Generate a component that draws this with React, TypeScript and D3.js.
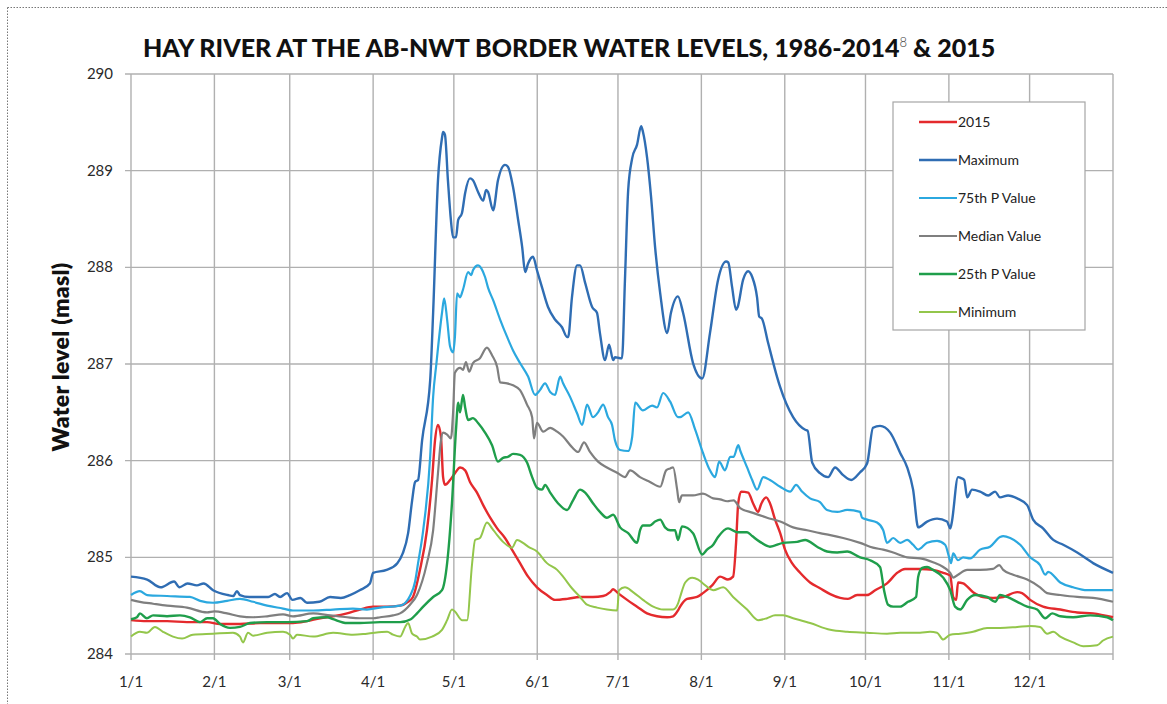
import React from "react";
import * as d3 from "d3";

// ---- data (day of year 2015, water level in masl) ----
const monthLabels = ["1/1", "2/1", "3/1", "4/1", "5/1", "6/1", "7/1", "8/1", "9/1", "10/1", "11/1", "12/1"];
const monthStartDays = [0, 31, 59, 90, 120, 151, 181, 212, 243, 273, 304, 334];
const yTicks = [284, 285, 286, 287, 288, 289, 290];

const seriesNames = ["2015", "Maximum", "75th P Value", "Median Value", "25th P Value", "Minimum"];

const y2015: [number, number][] = [
  [0, 284.35], [5.9, 284.34], [13.4, 284.34], [20.8, 284.33], [28.3, 284.33], [33.1, 284.31], [40.5, 284.31], [48, 284.32],
  [55.4, 284.32], [60.2, 284.32], [65.4, 284.34], [70.3, 284.37], [75.1, 284.39], [80.3, 284.42], [85.1, 284.46], [90, 284.49],
  [95.2, 284.49], [100, 284.5], [103, 284.54], [104.8, 284.59], [107.4, 284.87], [110, 285.28], [111.9, 285.8], [113, 286.21],
  [114.1, 286.37], [115.2, 286.25], [116, 285.83], [116.7, 285.75], [118.6, 285.8], [120.4, 285.87], [122.3, 285.93], [124.2, 285.9],
  [126, 285.78], [128.6, 285.67], [130.9, 285.54], [133.5, 285.41], [136.1, 285.3], [139, 285.2], [141.6, 285.08], [144.6, 284.94],
  [147.6, 284.8], [150.9, 284.69], [154.6, 284.61], [157.6, 284.56], [162.1, 284.57], [166.9, 284.59], [171.7, 284.59], [175.5, 284.6],
  [178.1, 284.64], [179.2, 284.67], [181, 284.63], [184.4, 284.56], [188.1, 284.49], [191.8, 284.42], [195.5, 284.39], [199.3, 284.38],
  [201.5, 284.39], [203.3, 284.45], [204.1, 284.49], [206.7, 284.57], [210.4, 284.59], [212.6, 284.63], [216, 284.71], [219, 284.8],
  [221.9, 284.77], [223.8, 284.8], [224.9, 285.15], [225.7, 285.56], [226.8, 285.68], [229.4, 285.67], [231.2, 285.56], [233.1, 285.47],
  [234.2, 285.55], [236.1, 285.62], [237.5, 285.56], [239.4, 285.39], [241.3, 285.25], [243.1, 285.08], [245.7, 284.94], [248.7, 284.84],
  [252.4, 284.74], [256.1, 284.68], [259.9, 284.62], [263.6, 284.58], [266.5, 284.57], [269.9, 284.61], [273.6, 284.61], [276.6, 284.66],
  [281, 284.73], [284.8, 284.84], [287.7, 284.88], [293.3, 284.88], [298.1, 284.87], [301.9, 284.84], [304.5, 284.81], [305.6, 284.59],
  [306.7, 284.56], [307.4, 284.74], [309.3, 284.73], [313, 284.64], [316.7, 284.59], [320.4, 284.58], [324.2, 284.59], [329.4, 284.64],
  [331.2, 284.63], [334.2, 284.56], [339, 284.49], [345.4, 284.46], [351.7, 284.43], [357.6, 284.42], [365, 284.38],
];

const yMaximum: [number, number][] = [
  [0, 284.8], [6, 284.77], [11, 284.69], [16, 284.75], [18, 284.69], [21, 284.73], [24.5, 284.71], [27, 284.73], [30.5, 284.66],
  [36, 284.61], [38, 284.6], [39.4, 284.65], [40.5, 284.61], [44, 284.59], [51, 284.59], [53.5, 284.62], [55.4, 284.59], [58, 284.63],
  [60, 284.56], [63, 284.58], [65.4, 284.53], [70, 284.54], [74, 284.59], [78, 284.58], [81.4, 284.61], [85, 284.66], [88.8, 284.73],
  [90, 284.84], [95, 284.87], [99, 284.94], [101, 285.04], [103, 285.25], [104.5, 285.59], [105.6, 285.78], [106.7, 285.8],
  [108.2, 286.21], [111.2, 286.83], [112.3, 287.53], [114.1, 288.9], [115.6, 289.34], [116, 289.4], [116.7, 289.37], [117.8, 288.9],
  [118.9, 288.49], [119.7, 288.31], [120.8, 288.31], [121.6, 288.49], [123, 288.56], [124.2, 288.77], [126, 288.92], [127.1, 288.9],
  [129, 288.78], [130.9, 288.69], [132, 288.8], [132.7, 288.78], [134.6, 288.59], [136.4, 288.9], [139, 289.06], [140.1, 289.04],
  [142, 288.83], [143.9, 288.49], [145.4, 288.21], [146.5, 287.95], [147.6, 288.04], [149.4, 288.11], [150.9, 287.97], [152.8, 287.79],
  [155, 287.59], [157.6, 287.46], [160.2, 287.38], [162.1, 287.28], [162.5, 287.28], [163.9, 287.69], [165.8, 288.02], [166.9, 288.02],
  [168.8, 287.84], [171.4, 287.59], [173.2, 287.53], [174.3, 287.32], [176.2, 287.04], [177.7, 287.2], [179.2, 287.04], [179.9, 287.07],
  [181.8, 287.06], [182.5, 287.06], [183.6, 287.87], [184.8, 288.8], [186.3, 289.13], [188.1, 289.27], [189.6, 289.46], [190.3, 289.4],
  [191.8, 289.14], [193.3, 288.73], [194.8, 288.21], [196.7, 287.73], [199.3, 287.32], [200.7, 287.53], [203.3, 287.7], [205.2, 287.53],
  [208.9, 287.01], [212.3, 286.85], [215.2, 287.32], [218.2, 287.87], [221.2, 288.06], [222, 288.05], [223.4, 287.8], [224.9, 287.56],
  [225.5, 287.59], [227.5, 287.87], [229.4, 287.96], [230.9, 287.9], [232.7, 287.69], [233.5, 287.49], [234.5, 287.47], [236.8, 287.22],
  [240.1, 286.87], [241.3, 286.76], [246.1, 286.45], [250.6, 286.32], [251.5, 286.31], [253.2, 285.98], [256.1, 285.87], [259.1, 285.83],
  [261.7, 285.93], [264.7, 285.85], [267.7, 285.8], [271, 285.88], [273.6, 285.97], [275.8, 286.34], [278.4, 286.36], [282.2, 286.29],
  [285.9, 286.08], [288.5, 285.93], [290.7, 285.7], [292.6, 285.31], [295.9, 285.37], [299.6, 285.4], [303.3, 285.37], [304.5, 285.3],
  [305, 285.35], [307.4, 285.83], [308.5, 285.82], [309.7, 285.8], [310.8, 285.62], [312.6, 285.7], [315.6, 285.68], [318.6, 285.64],
  [321.2, 285.68], [323, 285.62], [326, 285.64], [329.4, 285.61], [333.1, 285.54], [335.3, 285.39], [339, 285.3], [342.8, 285.18],
  [346.5, 285.13], [351.7, 285.05], [357.6, 284.94], [365, 284.84],
];

const y75th: [number, number][] = [
  [0, 284.61], [3.3, 284.65], [6, 284.61], [13.4, 284.6], [21.9, 284.59], [25.7, 284.55], [30.5, 284.53], [35.7, 284.55], [40.5, 284.57],
  [45.4, 284.54], [50.6, 284.5], [56.5, 284.47], [60.2, 284.45], [67.7, 284.45], [75.1, 284.46], [82.5, 284.47], [87.7, 284.46],
  [92.6, 284.48], [100, 284.5], [102, 284.53], [103.7, 284.6], [105.6, 284.75], [106.7, 284.94], [108.6, 285.28], [111.2, 286.04],
  [112.3, 286.66], [113.5, 287.0], [115.6, 287.53], [116.4, 287.68], [117.5, 287.46], [118.6, 287.18], [119.7, 287.12], [120.4, 287.28],
  [121.2, 287.73], [122.3, 287.69], [123.4, 287.77], [125.3, 287.95], [126.5, 287.92], [127.1, 287.97], [129, 288.02], [130.2, 287.99],
  [131.6, 287.9], [132.7, 287.79], [134.6, 287.66], [137.2, 287.46], [139.8, 287.28], [142, 287.14], [144.6, 287.01], [147.6, 286.87],
  [150.2, 286.68], [152, 286.73], [153.9, 286.8], [155.8, 286.71], [157.6, 286.68], [159.5, 286.87], [160.6, 286.8], [163.2, 286.66],
  [165.8, 286.49], [167.7, 286.37], [169.5, 286.58], [171.7, 286.45], [173.6, 286.5], [175.5, 286.58], [177.3, 286.45], [178.8, 286.37],
  [179.9, 286.21], [181.8, 286.11], [184.8, 286.1], [186.3, 286.25], [187.4, 286.6], [190.3, 286.52], [193.7, 286.57], [195.5, 286.55],
  [197.8, 286.7], [200.4, 286.61], [203.3, 286.45], [204.1, 286.45], [207.1, 286.5], [209.7, 286.32], [212.6, 286.08], [215.2, 285.9],
  [217.1, 285.83], [218.6, 285.99], [220.8, 285.9], [222.7, 286.04], [224, 286.04], [225.7, 286.16], [226.5, 286.1], [229, 285.93],
  [230.9, 285.8], [232.7, 285.7], [235, 285.83], [237.5, 285.8], [241.3, 285.73], [245, 285.68], [247.2, 285.75], [249.4, 285.68],
  [252.4, 285.61], [256.1, 285.57], [258.7, 285.49], [262.5, 285.47], [266.2, 285.49], [271, 285.47], [271.7, 285.41], [273.6, 285.39],
  [277.3, 285.36], [279.6, 285.28], [281, 285.15], [283.3, 285.2], [285.9, 285.15], [288.5, 285.18], [290.7, 285.13], [292.6, 285.08],
  [295.9, 285.15], [299.6, 285.17], [302.6, 285.13], [304.1, 285.0], [304.8, 284.94], [305.6, 285.04], [307.4, 284.97], [309.3, 285.0],
  [311.9, 284.99], [315.6, 285.08], [319.3, 285.11], [323, 285.21], [324.2, 285.22], [326.8, 285.2], [330.5, 285.13], [334.2, 285.0],
  [337.9, 284.92], [339.8, 284.82], [340.9, 284.85], [345.4, 284.74], [350.2, 284.69], [355.4, 284.66], [365, 284.66],
];

const yMedian: [number, number][] = [
  [0, 284.56], [3.3, 284.54], [8.2, 284.52], [13.4, 284.5], [20.8, 284.48], [28.3, 284.43], [31, 284.44], [35.7, 284.42], [40.5, 284.39],
  [45.4, 284.38], [50.6, 284.39], [56.5, 284.41], [60.2, 284.39], [67.7, 284.42], [74, 284.4], [80.3, 284.38], [85.1, 284.37],
  [90, 284.37], [92.6, 284.38], [97.4, 284.4], [100, 284.42], [103.7, 284.51], [106.3, 284.61], [110, 284.94], [112.3, 285.28],
  [114.1, 285.87], [115.2, 286.21], [116, 286.29], [117.5, 286.27], [118.9, 286.23], [119.7, 286.49], [120.4, 286.91], [122.3, 286.96],
  [123.4, 286.94], [124.5, 287.02], [125.7, 286.92], [127.1, 287.01], [129.7, 287.06], [132.3, 287.17], [134.2, 287.09], [136.1, 286.97],
  [137.2, 286.81], [139.8, 286.8], [142, 286.78], [144.6, 286.73], [147.2, 286.58], [149.1, 286.45], [149.8, 286.23], [150.9, 286.39],
  [153.2, 286.3], [155.8, 286.34], [158.4, 286.3], [160.6, 286.25], [163.9, 286.14], [166.2, 286.09], [168.4, 286.19], [170.6, 286.09],
  [173.6, 285.99], [176.9, 285.93], [181, 285.87], [183.6, 285.83], [185.5, 285.9], [189.2, 285.83], [192.9, 285.78], [196.7, 285.73],
  [198.9, 285.9], [200.4, 285.92], [201.5, 285.93], [203, 285.7], [203.7, 285.57], [204.8, 285.64], [208.9, 285.64], [212.6, 285.66],
  [216.4, 285.61], [219, 285.6], [221.6, 285.58], [224, 285.59], [226.4, 285.51], [231.2, 285.46], [236.4, 285.41], [241.3, 285.37],
  [246.1, 285.31], [251.3, 285.28], [256.1, 285.25], [259.9, 285.23], [264.7, 285.2], [271, 285.15], [275.8, 285.1], [279.6, 285.08],
  [283.3, 285.05], [288.5, 285.0], [293.3, 284.99], [298.1, 284.95], [301.9, 284.9], [304.5, 284.84], [305.6, 284.79], [307.4, 284.82],
  [310.8, 284.87], [315.6, 284.87], [320.4, 284.88], [322.7, 284.92], [324.2, 284.87], [327.9, 284.82], [333.1, 284.77], [337.9, 284.69],
  [340.5, 284.63], [345.4, 284.61], [351.7, 284.59], [357.6, 284.58], [365, 284.54],
];

const y25th: [number, number][] = [
  [0, 284.36], [2.2, 284.38], [3.3, 284.42], [5.9, 284.37], [8.2, 284.4], [13.4, 284.39], [18.2, 284.4], [21.9, 284.38], [25.7, 284.33],
  [28.3, 284.37], [30.5, 284.37], [33.1, 284.31], [36.8, 284.27], [40.5, 284.28], [44.2, 284.32], [50.6, 284.33], [58, 284.33],
  [65.4, 284.34], [67.7, 284.37], [72.9, 284.38], [75.1, 284.36], [80.3, 284.32], [85.1, 284.32], [92.6, 284.33], [100, 284.33],
  [104, 284.36], [106.3, 284.42], [108.6, 284.49], [112.3, 284.59], [115.6, 284.66], [117.5, 284.94], [119.3, 285.56], [120.8, 286.32],
  [121.6, 286.6], [122.3, 286.5], [123.4, 286.68], [124.2, 286.55], [125.3, 286.42], [127.1, 286.44], [129, 286.39], [131.6, 286.29],
  [134.2, 286.16], [136.4, 285.99], [138.3, 286.03], [140.1, 286.04], [142, 286.07], [144.6, 286.06], [147.2, 285.98], [149.1, 285.83],
  [150.9, 285.72], [152.8, 285.7], [153.9, 285.75], [155.8, 285.67], [158.7, 285.56], [162.1, 285.49], [164.3, 285.59], [166.9, 285.7],
  [168.8, 285.67], [171.7, 285.56], [174.3, 285.47], [176.9, 285.41], [179.2, 285.44], [181.8, 285.31], [184.8, 285.25], [188.1, 285.15],
  [189.2, 285.28], [190.3, 285.33], [192.9, 285.33], [194.8, 285.37], [196.7, 285.39], [198.5, 285.31], [200.4, 285.28], [202.2, 285.28],
  [203.3, 285.18], [204.8, 285.32], [208.9, 285.25], [212.3, 285.03], [214.1, 285.08], [216.4, 285.13], [218.2, 285.21], [221.9, 285.3],
  [225.3, 285.26], [229, 285.26], [230.9, 285.22], [233.8, 285.16], [237.5, 285.11], [242.4, 285.15], [247.6, 285.16], [250.6, 285.18],
  [255, 285.11], [258.7, 285.06], [262.5, 285.05], [266.2, 285.06], [271, 285.0], [274.7, 284.97], [278.4, 284.9], [279.9, 284.66],
  [281.4, 284.51], [283.3, 284.49], [285.9, 284.49], [288.8, 284.54], [291.8, 284.59], [292.6, 284.8], [294.1, 284.89], [295.9, 284.9],
  [298.1, 284.87], [301.9, 284.79], [304.5, 284.66], [306.3, 284.49], [308.2, 284.46], [310.8, 284.56], [313.8, 284.61], [318.2, 284.59],
  [321.2, 284.54], [323, 284.61], [325.7, 284.59], [329.4, 284.54], [333.1, 284.49], [336.8, 284.46], [339.8, 284.37], [342.4, 284.42],
  [345.4, 284.39], [350.2, 284.38], [356.5, 284.4], [362.8, 284.38], [365, 284.35],
];

const yMinimum: [number, number][] = [
  [0, 284.18], [3.3, 284.23], [5.9, 284.22], [8.9, 284.28], [11.9, 284.23], [15.6, 284.18], [19, 284.16], [23, 284.2], [30.5, 284.21],
  [37.9, 284.22], [40.5, 284.18], [41.6, 284.12], [43.5, 284.22], [45.4, 284.19], [50.6, 284.22], [56.5, 284.23], [59.1, 284.2],
  [60.2, 284.16], [61.7, 284.2], [67.7, 284.18], [75.1, 284.22], [82.5, 284.2], [87.7, 284.21], [95.2, 284.23], [97.4, 284.2],
  [100, 284.18], [101.9, 284.28], [103, 284.32], [104.5, 284.21], [106.3, 284.18], [107.4, 284.15], [111.9, 284.18], [115.6, 284.25],
  [117.5, 284.35], [119.3, 284.46], [120.4, 284.44], [123, 284.35], [124.9, 284.35], [126.8, 284.94], [127.9, 285.18], [129.7, 285.2],
  [132.3, 285.36], [134.2, 285.3], [136.1, 285.23], [138.3, 285.16], [141.6, 285.1], [143.5, 285.18], [145.7, 285.15], [147.6, 285.11],
  [150.9, 285.06], [154.6, 284.94], [158.4, 284.87], [160.6, 284.8], [163.9, 284.68], [166.9, 284.59], [169.5, 284.51], [173.2, 284.48],
  [176.9, 284.46], [180.7, 284.45], [181.4, 284.66], [183.6, 284.69], [186.6, 284.64], [190.3, 284.56], [194.1, 284.49], [197.8, 284.46],
  [201.5, 284.46], [203.3, 284.52], [204.1, 284.59], [206, 284.74], [208.6, 284.79], [210.8, 284.77], [212.6, 284.73], [216.4, 284.66],
  [220.1, 284.69], [223.8, 284.59], [229, 284.46], [233.1, 284.35], [236.4, 284.37], [239.4, 284.4], [242.4, 284.4], [246.1, 284.37],
  [252.4, 284.32], [259.9, 284.25], [266.2, 284.23], [273.6, 284.22], [281, 284.21], [285.9, 284.22], [293.3, 284.22], [297, 284.23],
  [299.6, 284.22], [301.9, 284.15], [304.5, 284.2], [308.2, 284.21], [313, 284.23], [318.2, 284.27], [323, 284.27], [329.4, 284.28],
  [334.2, 284.29], [337.9, 284.28], [340.5, 284.21], [342.8, 284.23], [345.4, 284.18], [350.2, 284.12], [353.9, 284.08], [359.1, 284.09],
  [361.3, 284.14], [365, 284.18],
];

const seriesData = [y2015, yMaximum, y75th, yMedian, y25th, yMinimum];
const seriesColors = ["#e42a2d", "#2f6db3", "#2ba8df", "#7f7f7f", "#1f9e4b", "#93c64b"];
const seriesWidths = [2.4, 2.4, 2.2, 2.2, 2.4, 2];

export default function App() {
  const W = 1167, H = 704;
  const left = 131, right = 1113, top = 74, bottom = 654;
  const x = d3.scaleLinear().domain([0, 365]).range([left, right]);
  const y = d3.scaleLinear().domain([284, 290]).range([bottom, top]);
  const line = d3
    .line<[number, number]>()
    .x((d) => x(d[0]))
    .y((d) => y(d[1]))
    .curve(d3.curveMonotoneX);

  const gridColor = "#b0b0b0";
  const tickFont = "Lato, 'Open Sans', sans-serif";

  const legendX = 893, legendY = 102, legendW = 192, legendH = 228;
  const rowY = (i: number) => 122 + i * 38;

  return (
    <svg width={W} height={H} style={{ position: "absolute", left: 0, top: 0, background: "#fff" }}>
      <rect x={0} y={0} width={W} height={H} fill="#fff" />
      {/* dotted outer frame */}
      <line x1={7.5} y1={7.5} x2={W} y2={7.5} stroke="#777" strokeWidth={1} strokeDasharray="1.5,1.5" />
      <line x1={7.5} y1={7.5} x2={7.5} y2={H} stroke="#777" strokeWidth={1} strokeDasharray="1.5,1.5" />

      {/* title */}
      <text x={143} y={57} fontFamily="Lato, sans-serif" fontWeight={900} fontSize={25} fill="#111" letterSpacing={0}>
        HAY RIVER AT THE AB-NWT BORDER WATER LEVELS, 1986-2014
        <tspan fontWeight={300} fontSize={13} dy={-10} fill="#444">8</tspan>
        <tspan dy={10}> &amp; 2015</tspan>
      </text>

      {/* horizontal gridlines + y ticks */}
      {yTicks.map((t) => (
        <g key={"y" + t}>
          <line x1={left - 6} x2={right} y1={y(t)} y2={y(t)} stroke={gridColor} strokeWidth={1.4} />
          <text x={left - 18} y={y(t) + 5} textAnchor="end" fontFamily={tickFont} fontSize={15} fill="#2a2a2a">
            {t}
          </text>
        </g>
      ))}
      {/* vertical gridlines + x ticks */}
      {[...monthStartDays, 365].map((d, i) => (
        <g key={"x" + d}>
          <line x1={x(d)} x2={x(d)} y1={top} y2={bottom + 6} stroke={gridColor} strokeWidth={1.4} />
          {i < monthLabels.length && (
            <text x={x(d)} y={687} textAnchor="middle" fontFamily={tickFont} fontSize={15} fill="#2a2a2a">
              {monthLabels[i]}
            </text>
          )}
        </g>
      ))}

      {/* y axis title */}
      <text
        transform={`translate(69,357) rotate(-90)`}
        textAnchor="middle"
        fontFamily="Lato, sans-serif"
        fontWeight={800}
        fontSize={23}
        letterSpacing={0.3}
        fill="#111"
      >
        Water level (masl)
      </text>

      {/* series */}
      {seriesData.map((s, i) => (
        <path key={seriesNames[i]} d={line(s) || ""} fill="none" stroke={seriesColors[i]} strokeWidth={seriesWidths[i]} strokeLinejoin="round" />
      ))}

      {/* legend */}
      <rect x={legendX} y={legendY} width={legendW} height={legendH} fill="#fff" stroke="#a6a6a6" strokeWidth={1.2} />
      {seriesNames.map((n, i) => (
        <g key={"lg" + n}>
          <line x1={919} x2={957} y1={rowY(i)} y2={rowY(i)} stroke={seriesColors[i]} strokeWidth={seriesWidths[i]} />
          <text x={958} y={rowY(i) + 5} fontFamily={tickFont} fontSize={14} fill="#222">
            {n}
          </text>
        </g>
      ))}
    </svg>
  );
}
